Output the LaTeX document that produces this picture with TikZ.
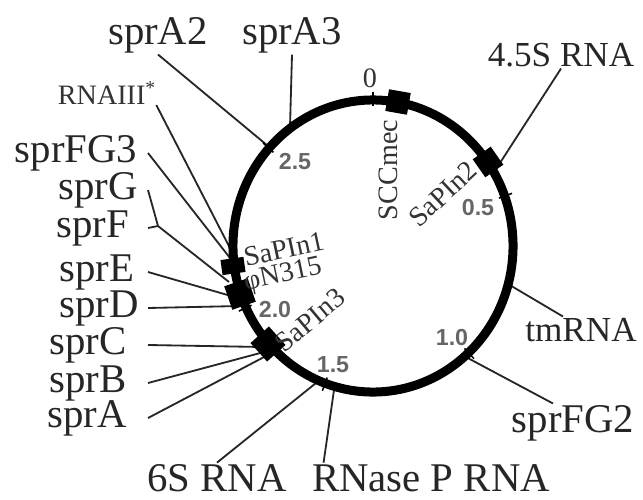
\documentclass[tikz,border=0pt]{standalone}
\usepackage{fontspec}
\setmainfont{Liberation Serif}
\setsansfont{Liberation Sans}
\begin{document}
\begin{tikzpicture}[x=0.025cm,y=-0.025cm,
    gene/.style={font=\fontsize{29}{30}\selectfont,inner sep=1pt,text=black!85},
    sgene/.style={font=\fontsize{25}{26}\selectfont,inner sep=1pt,text=black!85},
    isl/.style={font=\fontsize{20}{21}\selectfont,inner sep=0pt,text=black!80},
    mb/.style={font=\sffamily\bfseries\fontsize{16.5}{17}\selectfont,inner sep=0pt,text=black!60},
    pin/.style={fill=black,inner sep=0pt,minimum width=0.55cm,minimum height=0.55cm},
    lead/.style={line width=1.3pt,black!85},
    chrom/.style={line width=6.4pt},
  ]
  \useasboundingbox (0,0) rectangle (643,499);

  \node[gene] (sprA2) at (158,35)  {sprA2};
  \node[gene] (sprA3) at (292,35)  {sprA3};
  \node[isl]  (rna3)  at (107,93)  {RNAIII\textsuperscript{*}};
  \node[gene] (sprFG3)at (76,153)  {sprFG3};
  \node[gene] (sprG)  at (98,190)  {sprG};
  \node[gene] (sprF)  at (93,228)  {sprF};
  \node[gene] (sprE)  at (97,272)  {sprE};
  \node[gene] (sprD)  at (99,308)  {sprD};
  \node[gene] (sprC)  at (88,345)  {sprC};
  \node[gene] (sprB)  at (88,383)  {sprB};
  \node[gene] (sprA)  at (87,418)  {sprA};
  \node[gene] (sixS)  at (217,478) {6S RNA};
  \node[gene] (rnp)   at (431,478) {RNase P RNA};
  \node[gene] (FG2)   at (573,423) {sprFG2};
  \node[sgene](tm)    at (581,330) {tmRNA};
  \node[sgene](s45)   at (561,55)  {4.5S RNA};

  \coordinate (lcol)    at (148,0);
  \coordinate (fork)    at (158,226);
  \coordinate (e-sprA2) at (268,146);
  \coordinate (e-sprA3) at (290,127);
  \coordinate (e-rna3)  at (232,252);
  \coordinate (e-sprFG3)at (230,258);
  \coordinate (e-sprFG) at (229,282);
  \coordinate (e-sprE)  at (238,298);
  \coordinate (e-sprD)  at (240,306);
  \coordinate (e-sprC)  at (262,347);
  \coordinate (e-sprB)  at (264,352);
  \coordinate (e-sprA)  at (266,356);
  \coordinate (e-6S)    at (316,383);
  \coordinate (e-rnp)   at (334,390);
  \coordinate (e-FG2)   at (464,356);
  \coordinate (e-tm)    at (508,284);
  \coordinate (e-45S)   at (498,166);

  \draw[lead] (sprA2.south) -- (e-sprA2);
  \draw[lead] (sprA3.south) -- (e-sprA3);
  \draw[lead] (rna3.south east) -- (e-rna3);
  \draw[lead] (sprFG3.east -| lcol) -- (e-sprFG3);
  \draw[lead] (sprG.east -| lcol) -- (fork) -- (e-sprFG);
  \draw[lead] (sprF.east -| lcol) -- (fork);
  \draw[lead] (sprE.east -| lcol) -- (e-sprE);
  \draw[lead] (sprD.east -| lcol) -- (e-sprD);
  \draw[lead] (sprC.east -| lcol) -- (e-sprC);
  \draw[lead] (sprB.east -| lcol) -- (e-sprB);
  \draw[lead] (sprA.east -| lcol) -- (e-sprA);
  \draw[lead] (sixS.north) -- (e-6S);
  \draw[lead] ([xshift=0.33cm]rnp.north west) -- (e-rnp);
  \draw[lead] ([xshift=-0.5cm]FG2.north) -- (e-FG2);
  \draw[lead] ([xshift=-0.45cm]tm.north) -- (e-tm);
  \draw[lead] (s45.south) -- (e-45S);

  \draw[chrom] (373,246) ellipse [x radius=3.5cm, y radius=3.65cm];
  \foreach \t in {0,70,137,200,245,312}
    \draw[line width=1.1pt] ({373+134*sin(\t)},{246-140*cos(\t)})
      -- ({373+148*sin(\t)},{246-154*cos(\t)});

  \node[pin,rotate=-10] (sccmec) at (398,102) {};
  \node[pin,rotate=-55] (sapi2)  at (488,162) {};
  \node[pin,minimum width=0.58cm,minimum height=0.38cm,rotate=8] (sapi1) at (233,266) {};
  \node[pin,minimum width=0.62cm,minimum height=0.62cm,rotate=19] (phi) at (240,294) {};
  \node[pin,minimum width=0.62cm,minimum height=0.62cm,rotate=42] (sapi3) at (268,344) {};

  \node[isl,rotate=90] (l-sccmec) at (388,170) {SCCmec};
  \node[isl,rotate=43] (l-sapi2)  at (443,194) {SaPIn2};
  \node[isl,rotate=12] (l-sapi1)  at (284,249) {SaPIn1};
  \node[isl,rotate=12] (l-phi)    at (283,276) {φN315};
  \node[isl,rotate=40] (l-sapi3)  at (310,320) {SaPIn3};

  \node[isl] (m0)  at (370,78)  {0};
  \node[mb]  (m05) at (478,208) {0.5};
  \node[mb]  (m10) at (452,338) {1.0};
  \node[mb]  (m15) at (333,365) {1.5};
  \node[mb]  (m20) at (275,310) {2.0};
  \node[mb]  (m25) at (295,162) {2.5};
\end{tikzpicture}
\end{document}
